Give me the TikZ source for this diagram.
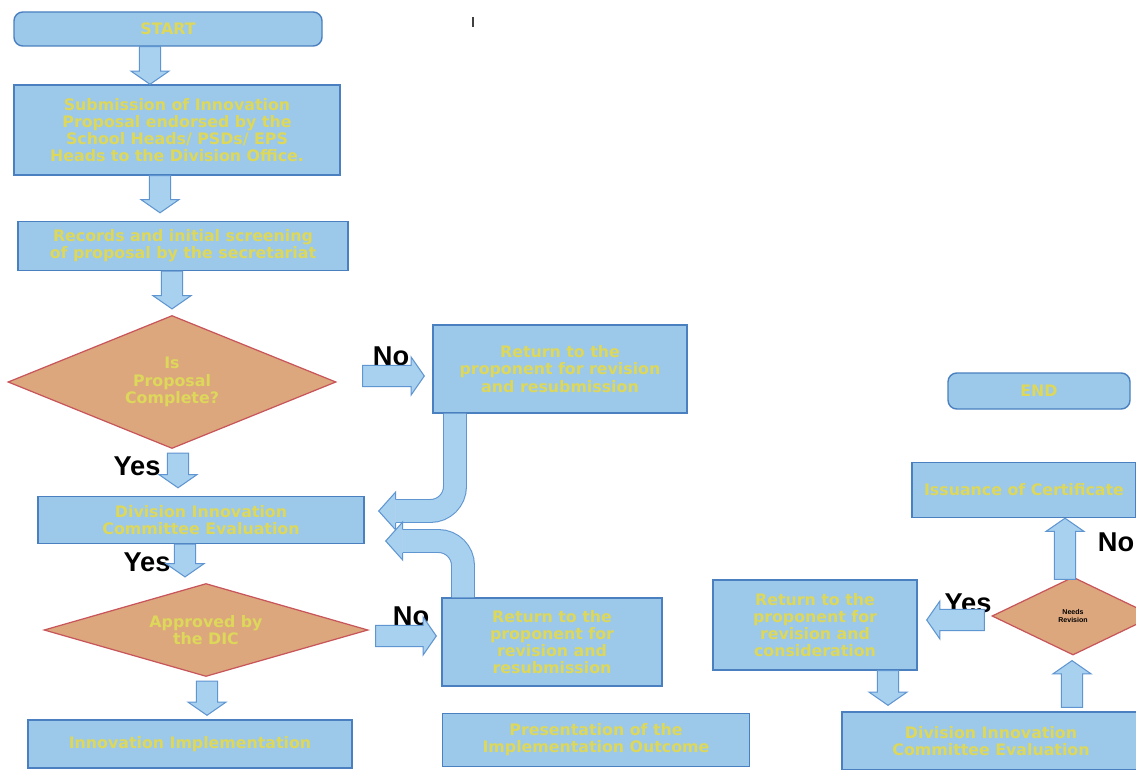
\documentclass[tikz,border=0pt]{standalone}
\usepackage{fontspec}
\usetikzlibrary{calc,shapes.geometric}
\newfontfamily\boxfont{DejaVu Sans}
\newfontfamily\lblfont{Liberation Sans}
\definecolor{boxfill}{HTML}{9CC9EA}
\definecolor{boxedge}{HTML}{4A80C0}
\definecolor{arrfill}{HTML}{A8D1EF}
\definecolor{arredge}{HTML}{5F95D0}
\definecolor{dfill}{HTML}{DCA77D}
\definecolor{dedge}{HTML}{C8555A}
\definecolor{ytext}{HTML}{DDD75A}
\newcommand{\pxl}{0.02cm}
\begin{document}
\begin{tikzpicture}[x=0.02cm,y=-0.02cm,
  box/.style={draw=boxedge, line width=0.8pt, fill=boxfill, text=ytext,
    font=\boxfont\bfseries\fontsize{9}{9.8}\selectfont, align=center, inner sep=2pt},
  rbox/.style={box, rounded corners=5pt},
  dec/.style={diamond, draw=dedge, line width=0.7pt, fill=dfill, text=ytext,
    font=\boxfont\bfseries\fontsize{9}{9.8}\selectfont, align=center, inner sep=0pt, aspect=2.4},
  lbl/.style={font=\lblfont\bfseries\fontsize{15.5}{17}\selectfont, text=black, inner sep=0pt},
  barrow/.style={draw=arredge, fill=arrfill, line width=0.6pt, line join=miter,
    to path={let \p1=(\tikztostart), \p2=(\tikztotarget),
      \n1={atan2(\y2-\y1,\x2-\x1)}, \n2={veclen(\x2-\x1,\y2-\y1)-7.5pt} in
      ($(\p1)+({\n1+90}:6pt)$) -- ($(\p1)+({\n1}:\n2)+({\n1+90}:6pt)$)
      -- ($(\p1)+({\n1}:\n2)+({\n1+90}:10.8pt)$) -- (\p2)
      -- ($(\p1)+({\n1}:\n2)+({\n1-90}:10.8pt)$) -- ($(\p1)+({\n1}:\n2)+({\n1-90}:6pt)$)
      -- ($(\p1)+({\n1-90}:6pt)$) -- cycle}},
  shaftout/.style={draw=arredge, line width=13.6pt, rounded corners=14pt},
  shaftin/.style={draw=arrfill, line width=12.4pt, rounded corners=14pt},
]
\useasboundingbox (0,0) rectangle (1136,770);
\clip (0,0) rectangle (1136,770);
\fill[white] (0,0) rectangle (1136,770);

% stray mark
\draw[line width=1.1pt, black!75] (473,17) -- (473,27);

% nodes
\node[rbox, minimum width=308*\pxl, minimum height=34*\pxl] (start) at (168,29) {START};
\node[box, minimum width=326*\pxl, minimum height=90*\pxl] (sub) at (177,130)
  {Submission of Innovation\\Proposal endorsed by the\\School Heads/ PSDs/ EPS\\Heads to the Division Office.};
\node[box, minimum width=330*\pxl, minimum height=49*\pxl] (rec) at (183,246)
  {Records and initial screening\\of proposal by the secretariat};
\node[dec, minimum width=328*\pxl, minimum height=133*\pxl] (d1) at (172,382)
  {Is\\Proposal\\Complete?};
\node[box, minimum width=254*\pxl, minimum height=88*\pxl] (ret1) at (560,369)
  {Return to the\\proponent for revision\\and resubmission};
\node[box, minimum width=326*\pxl, minimum height=47*\pxl] (div1) at (201,520)
  {Division Innovation\\Committee Evaluation};
\node[dec, minimum width=324*\pxl, minimum height=93*\pxl] (d2) at (206,630)
  {Approved by\\the DIC};
\node[box, minimum width=220*\pxl, minimum height=88*\pxl] (ret2) at (552,642)
  {Return to the\\proponent for\\revision and\\resubmission};
\node[box, minimum width=324*\pxl, minimum height=48*\pxl] (impl) at (190,744)
  {Innovation Implementation};
\node[box, minimum width=307*\pxl, minimum height=53*\pxl] (pres) at (596,740)
  {Presentation of the\\Implementation Outcome};
\node[box, minimum width=204*\pxl, minimum height=90*\pxl] (ret3) at (815,625)
  {Return to the\\proponent for\\revision and\\consideration};
\node[dec, minimum width=162*\pxl, minimum height=78*\pxl, text=black,
  font=\lblfont\bfseries\fontsize{4}{5}\selectfont] (d3) at (1073,616) {Needs\\Revision};
\node[box, minimum width=298*\pxl, minimum height=58*\pxl] (div2) at (991,741)
  {Division Innovation\\Committee Evaluation};
\node[box, minimum width=224*\pxl, minimum height=55*\pxl] (iss) at (1024,490)
  {Issuance of Certificate};
\node[rbox, minimum width=182*\pxl, minimum height=36*\pxl] (end) at (1039,391) {END};

% labels
\node[lbl] (no1) at (391,356) {No};
\node[lbl] (yes1) at (137,466) {Yes};
\node[lbl] (yes2) at (147,562) {Yes};
\node[lbl] (no2) at (411,616) {No};
\node[lbl] (yes3) at (968,603) {Yes};
\node[lbl] (no3) at (1116,542) {No};

% straight block arrows
\coordinate (a1s) at ($(start.south)+(-18,0)$);
\draw[barrow] (a1s) to (a1s |- sub.north);
\coordinate (a2s) at ($(sub.south)+(-17,0)$);
\draw[barrow] (a2s) to ($(a2s |- rec.north)+(0,-8)$);
\coordinate (a3s) at ($(rec.south)+(-11,0)$);
\draw[barrow] (a3s) to ($(a3s |- d1.north)+(0,-6)$);
\coordinate (a4s) at ($(d1.south)+(6,4)$);
\draw[barrow] (a4s) to ($(a4s |- div1.north)+(0,-8)$);
\coordinate (a5s) at ($(div1.south)+(-16,0)$);
\draw[barrow] (a5s) to ($(a5s |- d2.north)+(0,-6)$);
\coordinate (a6s) at ($(d2.south)+(1,4)$);
\draw[barrow] (a6s) to ($(a6s |- impl.north)+(0,-4)$);
\coordinate (n1s) at ($(d1.east)+(26,-6)$);
\draw[barrow] (n1s) to ($(ret1.west |- n1s)+(-8,0)$);
\coordinate (n2s) at ($(d2.east)+(7,6)$);
\draw[barrow] (n2s) to ($(ret2.west |- n2s)+(-5,0)$);
\coordinate (y3s) at ($(d3.west)+(-7,4)$);
\draw[barrow] (y3s) to ($(ret3.east |- y3s)+(9,0)$);
\coordinate (a7s) at ($(ret3.south)+(73,0)$);
\draw[barrow] (a7s) to ($(a7s |- div2.north)+(0,-6)$);
\coordinate (a8s) at ($(div2.north)+(81,-4)$);
\draw[barrow] (a8s) to ($(a8s |- d3.south)+(0,5)$);
\coordinate (n3s) at ($(d3.north)+(-8,3)$);
\draw[barrow] (n3s) to (n3s |- iss.south);

% curved block arrows
\coordinate (c1a) at ($(ret1.south)+(-105,0)$);
\coordinate (c1t) at ($(div1.east)+(14,-9)$);
\draw[shaftout] (c1a) -- (c1a |- c1t) -- ($(c1t)+(17,0)$);
\draw[shaftin] (c1a) -- (c1a |- c1t) -- ($(c1t)+(17,0)$);
\fill[arrfill] ($(c1t)+(17,-11)$) -- ($(c1t)+(17,-19)$) -- (c1t) -- ($(c1t)+(17,19)$) -- ($(c1t)+(17,11)$) -- cycle;
\draw[arredge, line width=0.6pt] ($(c1t)+(17,-11.5)$) -- ($(c1t)+(17,-19)$) -- (c1t) -- ($(c1t)+(17,19)$) -- ($(c1t)+(17,11.5)$);

\coordinate (c2a) at ($(ret2.north)+(-89,0)$);
\coordinate (c2t) at ($(div1.east)+(21,21)$);
\draw[shaftout] (c2a) -- (c2a |- c2t) -- ($(c2t)+(17,0)$);
\draw[shaftin] (c2a) -- (c2a |- c2t) -- ($(c2t)+(17,0)$);
\fill[arrfill] ($(c2t)+(17,-11)$) -- ($(c2t)+(17,-19)$) -- (c2t) -- ($(c2t)+(17,19)$) -- ($(c2t)+(17,11)$) -- cycle;
\draw[arredge, line width=0.6pt] ($(c2t)+(17,-11.5)$) -- ($(c2t)+(17,-19)$) -- (c2t) -- ($(c2t)+(17,19)$) -- ($(c2t)+(17,11.5)$);
\end{tikzpicture}
\end{document}
